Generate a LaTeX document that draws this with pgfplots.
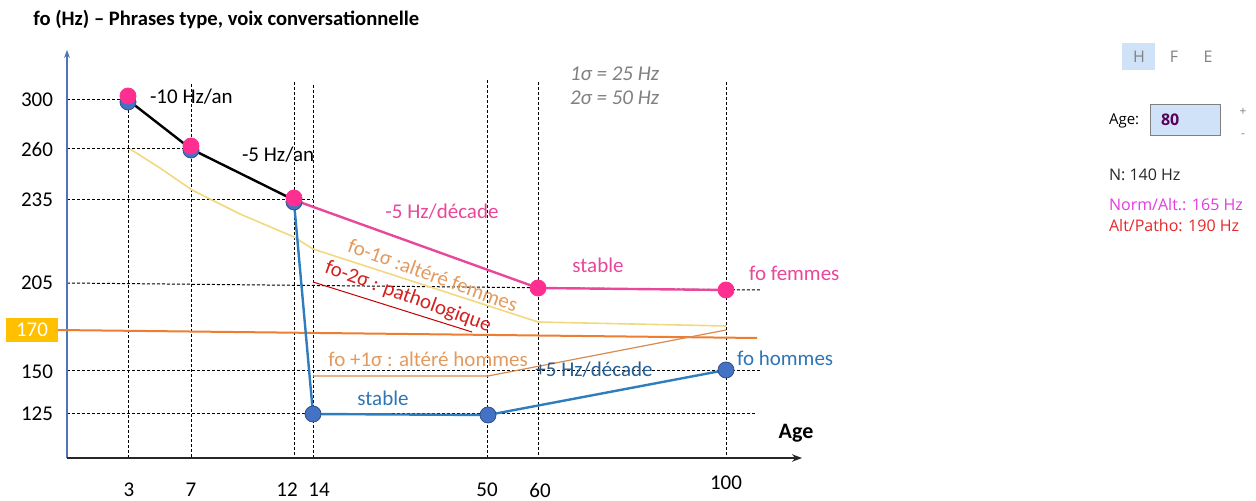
\documentclass[border=0pt]{standalone}
\usepackage{pgfplots}
\pgfplotsset{compat=1.18}
\usepackage{fontspec}
\setmainfont{Carlito}
\newfontfamily\ui{Open Sans}
\usetikzlibrary{arrows.meta}
\definecolor{pinkpt}{HTML}{FF2F92}
\definecolor{pinkln}{HTML}{E8479A}
\definecolor{bluept}{HTML}{4472C4}
\definecolor{blueln}{HTML}{2E7DBF}
\definecolor{bluetx}{HTML}{2E75B6}
\definecolor{yel}{HTML}{F2D880}
\definecolor{orng}{HTML}{ED7D31}
\definecolor{orng2}{HTML}{D98A4E}
\definecolor{orngtx}{HTML}{E39A5E}
\definecolor{redln}{HTML}{C00000}
\definecolor{redtx}{HTML}{D42020}
\definecolor{gold}{HTML}{FFC000}
\definecolor{boxfill}{HTML}{CFE2F7}
\definecolor{normcol}{HTML}{E03CE0}
\definecolor{pathocol}{HTML}{E8262A}
\tikzset{lbl/.style={font=\fontsize{10.5}{12}\selectfont}}
\begin{document}
\begin{tikzpicture}
% schematic chart: the age and Hz scales are not linear, so positions are kept in
% the picture's own frame (x to the right, y downward, 1256 x 501)
\begin{axis}[
    scale only axis,
    width=628pt, height=250.5pt,
    xmin=0, xmax=1256, ymin=0, ymax=501,
    y dir=reverse,
    hide axis,
    clip=false,
  ]
  % grid guides
  \addplot [black, line width=0.5pt, dash pattern=on 1.5pt off 1pt] coordinates {(67,100)(128,100)};
  \addplot [black, line width=0.5pt, dash pattern=on 1.5pt off 1pt] coordinates {(67,149)(191,149)};
  \addplot [black, line width=0.5pt, dash pattern=on 1.5pt off 1pt] coordinates {(67,200)(313,200)};
  \addplot [black, line width=0.5pt, dash pattern=on 1.5pt off 1pt] coordinates {(67,283)(760,290)};
  \addplot [black, line width=0.5pt, dash pattern=on 1.5pt off 1pt] coordinates {(67,371)(760,371)};
  \addplot [black, line width=0.5pt, dash pattern=on 1.5pt off 1pt] coordinates {(67,414)(755,414)};
  \addplot [black, line width=0.5pt, dash pattern=on 1.5pt off 1pt] coordinates {(128,100)(128,458)};
  \addplot [black, line width=0.5pt, dash pattern=on 1.5pt off 1pt] coordinates {(191,84)(191,458)};
  \addplot [black, line width=0.5pt, dash pattern=on 1.5pt off 1pt] coordinates {(294,82)(294,458)};
  \addplot [black, line width=0.5pt, dash pattern=on 1.5pt off 1pt] coordinates {(313,85)(313,458)};
  \addplot [black, line width=0.5pt, dash pattern=on 1.5pt off 1pt] coordinates {(487,80)(487,458)};
  \addplot [black, line width=0.5pt, dash pattern=on 1.5pt off 1pt] coordinates {(538,82)(538,458)};
  \addplot [black, line width=0.5pt, dash pattern=on 1.5pt off 1pt] coordinates {(726,82)(726,458)};

  % axes
  \draw [color=bluept!80!gray, line width=0.6pt, -{Stealth[length=4pt]}] (67,458) -- (67,50);
  \draw [color=black!85, line width=0.7pt, -{Stealth[length=5pt]}] (67,458) -- (802,458);

  % reference bands
  \addplot [orng, line width=1pt] coordinates {(58,330)(757,338)};
  \addplot [orng2, line width=0.6pt] coordinates {(313,376)(488,376)(726,330)};
  \addplot [yel, line width=0.8pt] coordinates {(130,149)(160,168)(192,190)(240,214)(294,237)(313,249)(538,322)(726,326)};
  \addplot [redln, line width=0.5pt] coordinates {(313,282)(472,332)};

  % fo curves
  \addplot [black, line width=1.2pt] coordinates {(128,100)(191,149)(294,200)};
  \addplot [pinkln, line width=1.2pt] coordinates {(294,200)(538,288)(726,290)};
  \addplot [blueln, line width=1.2pt] coordinates {(294,202)(313,414)(488,415)(726,370)};

  \addplot [only marks, mark=*, mark size=4pt, color=bluept, mark options={draw=bluept!70!black}] coordinates {(128,102)(191,150)(294,202)(313,414)(488,415)(726,370)};
  \addplot [only marks, mark=*, mark size=4pt, color=pinkpt, mark options={draw=pinkpt}] coordinates {(128,96)(191,146)(294,198)(538,288)(726,290)};

  % tick labels
  \node [lbl] at (37,100) {300};
  \node [lbl] at (37,149) {260};
  \node [lbl] at (37,200) {235};
  \node [lbl] at (37,283) {205};
  \node [lbl] at (37,372) {150};
  \node [lbl] at (37,414) {125};
  \fill [gold] (6,318) rectangle (58,342);
  \node [lbl, white] at (32,330) {170};
  \node [lbl, inner sep=0pt] at (129,490) {3};
  \node [lbl, inner sep=0pt] at (191,490) {7};
  \node [lbl, inner sep=0pt] at (287,490) {12};
  \node [lbl, inner sep=0pt] at (319,490) {14};
  \node [lbl, inner sep=0pt] at (487,490) {50};
  \node [lbl, inner sep=0pt] at (540,490) {60};
  \node [lbl] at (726,483) {100};
  \node [font=\fontsize{11}{13}\selectfont\bfseries] at (796,433) {Age};

  % annotations
  \node [lbl, anchor=west] at (143,97) {-10 Hz/an};
  \node [lbl, anchor=west] at (235,155) {-5 Hz/an};
  \node [lbl, pinkln] at (442,212) {-5 Hz/décade};
  \node [lbl, pinkln] at (598,265) {stable};
  \node [lbl, pinkln, anchor=west] at (742,273) {fo femmes};
  \node [lbl, orngtx, rotate=-20] at (433,275) {fo-1σ :altéré femmes};
  \node [lbl, redtx, rotate=-20] at (408,297) {fo-2σ : pathologique};
  \node [lbl, orngtx] at (428,359) {fo +1σ : altéré hommes};
  \node [lbl, bluetx!80!black] at (594,370) {+5 Hz/décade};
  \node [lbl, bluetx] at (383,398) {stable};
  \node [lbl, bluetx, anchor=west] at (730,358) {fo hommes};
  \node [font=\fontsize{10.5}{12}\selectfont\itshape, gray, anchor=west] at (563,74) {1σ = 25 Hz};
  \node [font=\fontsize{10.5}{12}\selectfont\itshape, gray, anchor=west] at (563,98) {2σ = 50 Hz};

  % title
  \node [font=\fontsize{10.3}{12}\selectfont\bfseries, anchor=west, inner sep=0pt] at (33,19) {fo (Hz) – Phrases type, voix conversationnelle};

  % side panel
  \fill [boxfill] (1122,43) rectangle (1155,70);
  \node [font=\ui\fontsize{8}{10}\selectfont, gray] at (1139,57) {H};
  \node [font=\ui\fontsize{8}{10}\selectfont, gray] at (1174,57) {F};
  \node [font=\ui\fontsize{8}{10}\selectfont, gray] at (1208,57) {E};
  \node [font=\ui\fontsize{7.5}{9}\selectfont, anchor=west] at (1102,121) {Age:};
  \filldraw [fill=boxfill, draw=gray, line width=0.5pt] (1150,105) rectangle (1220,136);
  \node [font=\ui\fontsize{8}{10}\selectfont\bfseries, color=violet!70!black, anchor=west] at (1154,120) {80};
  \node [font=\ui\fontsize{6}{7}\selectfont, gray] at (1243,112) {+};
  \node [font=\ui\fontsize{6}{7}\selectfont, gray] at (1243,136) {-};
  \node [font=\ui\fontsize{8}{10}\selectfont, black!85, anchor=west] at (1102,175) {N: 140 Hz};
  \node [font=\ui\fontsize{8}{10}\selectfont, normcol, anchor=west] at (1102,205) {Norm/Alt.: 165 Hz};
  \node [font=\ui\fontsize{8}{10}\selectfont, pathocol, anchor=west] at (1102,226) {Alt/Patho: 190 Hz};
\end{axis}
\pgfresetboundingbox
\path (current axis.south west) rectangle (current axis.north east);
\end{tikzpicture}
\end{document}
